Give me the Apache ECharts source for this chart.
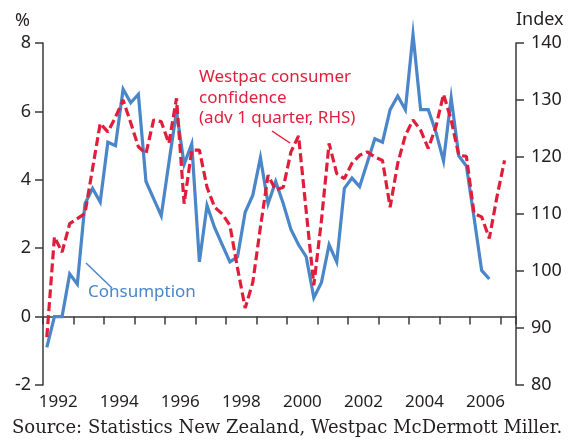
<!DOCTYPE html>
<html>
<head>
<meta charset="utf-8">
<script src="https://cdn.jsdelivr.net/npm/echarts@6/dist/echarts.min.js"></script>
<style>html,body{margin:0;padding:0;background:#fff}#c{width:569px;height:441px}</style>
</head>
<body>
<div id="c"></div>
<script>
// Quarterly data, first observation 1992 Q1
const startYear = 1992;
// Consumption, % (left axis)
const consumption = [
  -0.9, 0.0, 0.0, 1.25, 0.95, 3.3, 3.75, 3.35,
  5.1, 5.0, 6.65, 6.25, 6.5, 3.95, 3.45, 2.95,
  4.5, 6.0, 4.45, 5.05, 1.6, 3.25, 2.6, 2.1,
  1.6, 1.75, 3.05, 3.55, 4.65, 3.3, 3.95, 3.3,
  2.55, 2.1, 1.75, 0.55, 1.0, 2.1, 1.6, 3.75,
  4.05, 3.8, 4.5, 5.2, 5.1, 6.05, 6.45, 6.05,
  8.25, 6.05, 6.05, 5.4, 4.55, 6.4, 4.7, 4.4,
  2.9, 1.35, 1.1
];
// Westpac consumer confidence, index, advanced 1 quarter (right axis)
const confidence = [
  88.4, 106.0, 103.3, 108.3, 109.2, 110.1, 118.0, 125.9,
  124.4, 127.0, 130.0, 126.0, 121.8, 120.6, 126.5, 126.2,
  122.4, 130.3, 111.8, 121.2, 121.2, 114.7, 111.2, 110.0,
  108.0, 100.5, 93.5, 98.0, 107.7, 116.8, 114.2, 114.7,
  120.9, 123.7, 110.5, 97.5, 108.9, 122.4, 117.1, 116.2,
  118.9, 120.3, 120.9, 120.0, 119.4, 111.2, 118.9, 123.8,
  126.5, 124.7, 121.5, 125.3, 131.0, 126.5, 120.3, 120.1,
  110.1, 109.5, 105.7, 113.0, 119.4
];
const leftTicks = { min: -2, max: 8, interval: 2 };
const rightTicks = { min: 80, max: 140, interval: 10 };
const yearRange = { min: 1992, max: 2007.5 };

const qx = i => startYear + (i + 0.5) / 4;
const consData = consumption.map((v, i) => [qx(i), v]);
const confData = confidence.map((v, i) => [qx(i), v]);

const BLUE = '#4a86c8';
const RED = '#e01e3c';
const AX = '#3a3a3a';
const TXT = '#231f20';
const FONT = '"Noto Sans", sans-serif';

const chart = echarts.init(document.getElementById('c'), null, { renderer: 'canvas' });
chart.setOption({
  animation: false,
  backgroundColor: '#fff',
  grid: { left: 43, right: 53, top: 43, bottom: 56, containLabel: false },
  xAxis: [
    {
      type: 'value', min: yearRange.min, max: yearRange.max, interval: 1,
      axisLine: { show: true, lineStyle: { color: AX, width: 1.5 } },
      axisTick: { show: true, length: 8, lineStyle: { color: AX, width: 1.5 } },
      axisLabel: { show: false },
      splitLine: { show: false }
    },
    {
      type: 'value', min: yearRange.min, max: yearRange.max, interval: 0.5, position: 'bottom',
      axisLine: { show: false }, axisTick: { show: false }, splitLine: { show: false },
      axisLabel: {
        show: true, margin: 9, color: TXT, fontFamily: FONT, fontSize: 17,
        formatter: v => (Math.abs((v % 2) - 0.5) < 1e-6 ? String(Math.floor(v)) : '')
      }
    }
  ],
  yAxis: [
    {
      type: 'value', min: leftTicks.min, max: leftTicks.max, interval: leftTicks.interval, position: 'left',
      axisLine: { show: true, lineStyle: { color: AX, width: 1.5 } },
      axisTick: { show: true, length: 8, lineStyle: { color: AX, width: 1.5 } },
      axisLabel: { margin: 12, color: TXT, fontFamily: FONT, fontSize: 18 },
      splitLine: { show: false }
    },
    {
      type: 'value', min: rightTicks.min, max: rightTicks.max, interval: rightTicks.interval, position: 'right',
      axisLine: { show: true, lineStyle: { color: AX, width: 1.5 } },
      axisTick: { show: true, length: 8, lineStyle: { color: AX, width: 1.5 } },
      axisLabel: { margin: 15, color: TXT, fontFamily: FONT, fontSize: 18 },
      splitLine: { show: false }
    }
  ],
  series: [
    {
      name: 'Consumption', type: 'line', xAxisIndex: 0, yAxisIndex: 0, data: consData,
      showSymbol: false, symbol: 'none', z: 3, clip: false,
      lineStyle: { color: BLUE, width: 3.2, join: 'miter' }
    },
    {
      name: 'Westpac consumer confidence', type: 'line', xAxisIndex: 0, yAxisIndex: 1, data: confData,
      showSymbol: false, symbol: 'none', z: 4, clip: false,
      lineStyle: { color: RED, width: 3.2, type: [9, 4] }
    }
  ],
  graphic: [
    { type: 'text', left: 15, top: 12, style: { text: '%', fill: TXT, font: '18px ' + FONT } },
    { type: 'text', left: 516, top: 11, style: { text: 'Index', fill: TXT, font: '18px ' + FONT } },
    { type: 'text', left: 199, top: 67, style: { text: 'Westpac consumer\nconfidence\n(adv 1 quarter, RHS)', fill: RED, font: '17px ' + FONT, lineHeight: 20.5 } },
    { type: 'line', shape: { x1: 272, y1: 131, x2: 290, y2: 143 }, style: { stroke: RED, lineWidth: 1.5 } },
    { type: 'text', left: 88, top: 284, style: { text: 'Consumption', fill: BLUE, font: '17px ' + FONT } },
    { type: 'line', shape: { x1: 86, y1: 263, x2: 112, y2: 288 }, style: { stroke: BLUE, lineWidth: 1.5 } },
    { type: 'text', left: 12, top: 419, style: { text: 'Source: Statistics New Zealand, Westpac McDermott Miller.', fill: TXT, font: '18px "DejaVu Serif", serif' } }
  ]
});
</script>
</body>
</html>
